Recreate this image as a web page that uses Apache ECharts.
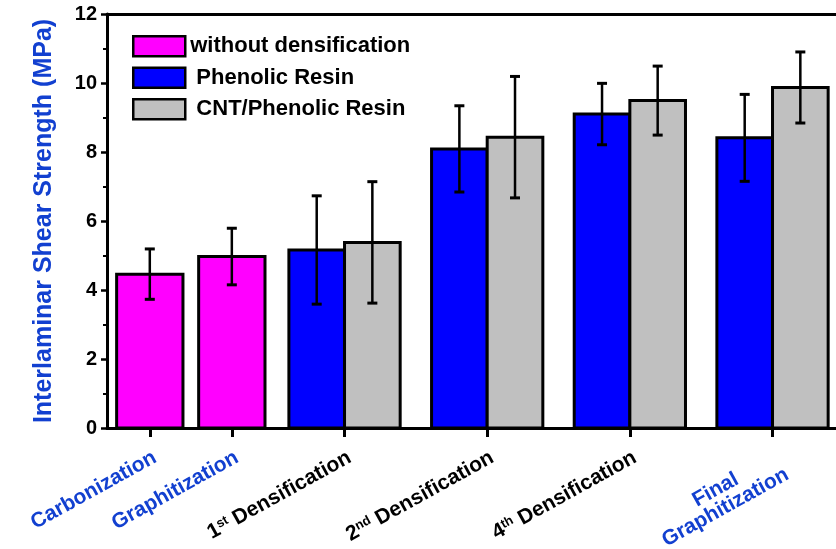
<!DOCTYPE html>
<html>
<head>
<meta charset="UTF-8">
<title>ILSS</title>
<script src="https://cdn.jsdelivr.net/npm/echarts@6.0.0/dist/echarts.min.js"></script>
<style>
  html, body { margin: 0; padding: 0; background: #fff; }
  #main { width: 836px; height: 549px; }
</style>
</head>
<body>
<div id="main"></div>
<script type="text/javascript">
// categories and where they sit on the (non-uniform) x axis
var categories = ['Carbonization', 'Graphitization', '1st Densification', '2nd Densification', '4th Densification', 'Final Graphitization'];
var catPos = [0.6, 1.75, 3.33, 5.33, 7.33, 9.33];

// values (MPa) and error bars
var withoutDens = [4.46, 4.97];
var withoutErr = [0.73, 0.82];
var phenolic = [5.16, 8.09, 9.10, 8.41];
var phenolicErr = [1.57, 1.25, 0.89, 1.26];
var cntPhenolic = [5.38, 8.43, 9.49, 9.87];
var cntErr = [1.76, 1.76, 1.00, 1.03];

var yTicks = [0, 2, 4, 6, 8, 10, 12];

// label text with rich tags
var labelText = [
  '{b|Carbonization}',
  '{b|Graphitization}',
  '{k|1}{s|st}{k| Densification}',
  '{k|2}{s|nd}{k| Densification}',
  '{k|4}{s|th}{k| Densification}',
  '{bc|Final}\n{bc|Graphitization}'
];

var blueTxt = '#1240d0';
var font = 'Liberation Sans, Arial';

function pack(pos, vals, errs) {
  var out = [];
  for (var i = 0; i < vals.length; i++) out.push([pos[i], vals[i], errs[i]]);
  return out;
}

function barRender(fill, offset, width) {
  return function (params, api) {
    var x = api.value(0), v = api.value(1), e = api.value(2);
    var cx = x + offset;
    var tl = api.coord([cx - width / 2, v]);
    var br = api.coord([cx + width / 2, 0]);
    var c = api.coord([cx, v]);
    var hi = api.coord([cx, v + e]);
    var lo = api.coord([cx, v - e]);
    var cap = 5;
    return {
      type: 'group',
      children: [
        { type: 'rect', shape: { x: tl[0], y: tl[1], width: br[0] - tl[0], height: br[1] - tl[1] },
          style: { fill: fill, stroke: '#000', lineWidth: 3 } },
        { type: 'line', shape: { x1: c[0], y1: hi[1], x2: c[0], y2: lo[1] },
          style: { stroke: '#000', lineWidth: 2.5 } },
        { type: 'line', shape: { x1: c[0] - cap, y1: hi[1], x2: c[0] + cap, y2: hi[1] },
          style: { stroke: '#000', lineWidth: 3 } },
        { type: 'line', shape: { x1: c[0] - cap, y1: lo[1], x2: c[0] + cap, y2: lo[1] },
          style: { stroke: '#000', lineWidth: 3 } }
      ]
    };
  };
}

var myChart = echarts.init(document.getElementById('main'));

myChart.setOption({
  animation: false,
  backgroundColor: '#fff',
  grid: { left: 107, right: 0, top: 14, bottom: 121, containLabel: false, outerBoundsMode: 'none' },
  legend: {
    orient: 'vertical',
    left: 132,
    top: 35,
    padding: 0,
    icon: 'rect',
    itemWidth: 52,
    itemHeight: 20,
    itemGap: 9,
    textStyle: { fontFamily: font, fontWeight: 'bold', fontSize: 22, color: '#000', lineHeight: 22 },
    formatter: function (name) {
      return name === 'without densification' ? name : ' ' + name;
    },
    data: [
      { name: 'without densification', itemStyle: { color: '#ff00ff', borderColor: '#000', borderWidth: 2.5 } },
      { name: 'Phenolic Resin', itemStyle: { color: '#0000ff', borderColor: '#000', borderWidth: 2.5 } },
      { name: 'CNT/Phenolic Resin', itemStyle: { color: '#c0c0c0', borderColor: '#000', borderWidth: 2.5 } }
    ]
  },
  xAxis: [{
    type: 'value',
    min: 0,
    max: 10.22,
    splitLine: { show: false },
    axisLine: { show: true, onZero: false, lineStyle: { color: '#000', width: 3 } },
    axisTick: { show: true, length: 9, customValues: catPos, lineStyle: { color: '#000', width: 3 } },
    axisLabel: {
      customValues: catPos,
      rotate: 29,
      align: 'right',
      verticalAlign: 'top',
      margin: 19,
      fontFamily: font,
      fontWeight: 'bold',
      fontSize: 21,
      color: '#000',
      formatter: function (val) {
        for (var i = 0; i < catPos.length; i++) {
          if (Math.abs(catPos[i] - val) < 1e-6) return labelText[i];
        }
        return '';
      },
      rich: {
        b: { color: blueTxt, fontFamily: font, fontWeight: 'bold', fontSize: 21 },
        bc: { color: blueTxt, fontFamily: font, fontWeight: 'bold', fontSize: 21, align: 'center', lineHeight: 20 },
        k: { color: '#000', fontFamily: font, fontWeight: 'bold', fontSize: 21 },
        s: { color: '#000', fontFamily: font, fontWeight: 'bold', fontSize: 13, verticalAlign: 'top' }
      }
    }
  }, {
    type: 'value',
    position: 'top',
    min: 0,
    max: 10.22,
    splitLine: { show: false },
    axisLine: { show: true, onZero: false, lineStyle: { color: '#000', width: 3 } },
    axisTick: { show: false },
    axisLabel: { show: false }
  }],
  yAxis: {
    type: 'value',
    min: 0,
    max: 12,
    interval: 2,
    name: 'Interlaminar Shear Strength (MPa)',
    nameLocation: 'middle',
    nameGap: 50,
    nameTextStyle: { color: blueTxt, fontFamily: font, fontWeight: 'bold', fontSize: 25 },
    splitLine: { show: false },
    axisLine: { show: true, lineStyle: { color: '#000', width: 3 } },
    axisTick: { show: true, length: 6, lineStyle: { color: '#000', width: 2.5 } },
    minorTick: { show: true, splitNumber: 2, length: 4, lineStyle: { color: '#000', width: 2 } },
    axisLabel: {
      margin: 10,
      fontFamily: font,
      fontWeight: 'bold',
      fontSize: 20,
      color: '#000',
      formatter: function (v) { return yTicks.indexOf(v) >= 0 ? String(v) : ''; }
    }
  },
  series: [{
    name: 'without densification',
    type: 'custom',
    itemStyle: { color: '#ff00ff' },
    renderItem: barRender('#ff00ff', 0, 0.93),
    encode: { x: 0, y: 1 },
    data: pack(catPos.slice(0, 2), withoutDens, withoutErr),
    z: 3
  }, {
    name: 'Phenolic Resin',
    type: 'custom',
    itemStyle: { color: '#0000ff' },
    renderItem: barRender('#0000ff', -0.39, 0.78),
    encode: { x: 0, y: 1 },
    data: pack(catPos.slice(2), phenolic, phenolicErr),
    z: 3
  }, {
    name: 'CNT/Phenolic Resin',
    type: 'custom',
    itemStyle: { color: '#c0c0c0' },
    renderItem: barRender('#c0c0c0', 0.39, 0.78),
    encode: { x: 0, y: 1 },
    data: pack(catPos.slice(2), cntPhenolic, cntErr),
    z: 3
  }]
});
</script>
</body>
</html>
